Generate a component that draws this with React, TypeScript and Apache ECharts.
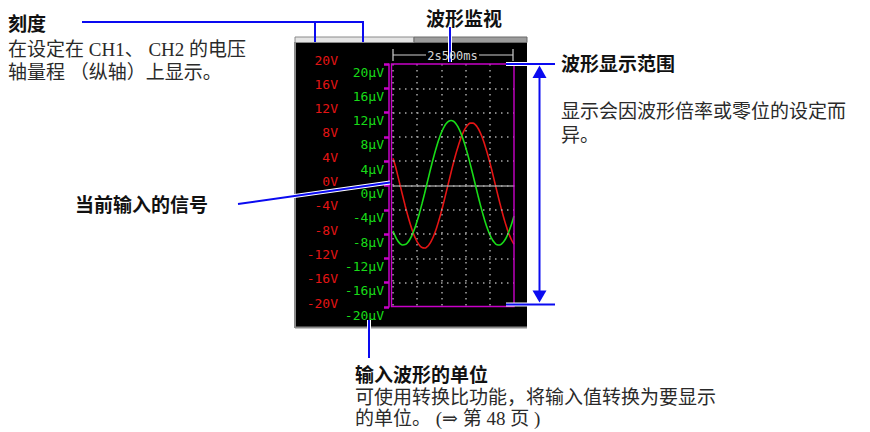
import React, { useEffect, useRef } from "react";
import * as echarts from "echarts";

// Sample times across the 2s500ms screen width (ms)
const TIME_MS = [
  0, 50, 100, 150, 200, 250, 300, 350, 400, 450,
  500, 550, 600, 650, 700, 750, 800, 850, 900, 950,
  1000, 1050, 1100, 1150, 1200, 1250, 1300, 1350, 1400, 1450,
  1500, 1550, 1600, 1650, 1700, 1750, 1800, 1850, 1900, 1950,
  2000, 2050, 2100, 2150, 2200, 2250, 2300, 2350, 2400, 2450,
  2500,
];

// CH2 waveform (green, µV scale)
const CH2_UV = [
  -7.5, -8.43, -9.13, -9.59, -9.79, -9.73, -9.42, -8.85, -8.05, -7.03,
  -5.82, -4.46, -2.96, -1.39, 0.24, 1.87, 3.46, 4.98, 6.38, 7.64,
  8.7, 9.56, 10.2, 10.58, 10.7, 10.57, 10.17, 9.53, 8.66, 7.58,
  6.32, 4.92, 3.39, 1.8, 0.17, -1.46, -3.03, -4.51, -5.87, -7.07,
  -8.09, -8.88, -9.43, -9.74, -9.79, -9.57, -9.1, -8.4, -7.46, -6.33,
  -5.02,
];

// CH1 waveform (red, V scale)
const CH1_V = [
  4.5, 3.18, 1.58, -0.06, -1.69, -3.28, -4.79, -6.18, -7.41, -8.45,
  -9.28, -9.87, -10.22, -10.3, -10.12, -9.68, -9.0, -8.09, -6.98, -5.69,
  -4.25, -2.71, -1.09, 0.55, 2.18, 3.75, 5.22, 6.56, 7.74, 8.72,
  9.48, 10.0, 10.27, 10.27, 10.01, 9.51, 8.75, 7.78, 6.6, 5.27,
  3.8, 2.23, 0.6, -1.04, -2.65, -4.2, -5.64, -6.93, -8.06, -8.97,
  -9.66,
];

const Y_MIN = -20;
const Y_MAX = 20;
const Y_STEP = 4;
const CH1_UNIT = "V";
const CH2_UNIT = "µV";
const TIME_DIV_LABEL = "2s500ms";

const GREEN = "#18dc18";
const RED = "#e41414";
const MAG = "#c800c8";
const BLUE = "#0a0af0";
const GRID_GREY = "#a8a8a8";

const CJK_SANS = '"Noto Sans CJK SC", sans-serif';
const BODY_FONT = '"Liberation Serif", "DejaVu Serif", "Noto Sans CJK SC", serif';
const MONO = '"DejaVu Sans Mono", monospace';
const FS = 19;

function blueLine(x1: number, y1: number, x2: number, y2: number, halo = false) {
  const els: any[] = [];
  if (halo) {
    els.push({
      type: "line",
      z: 60,
      shape: { x1, y1, x2, y2 },
      style: { stroke: "#ffffff", lineWidth: 4 },
    });
  }
  els.push({
    type: "line",
    z: 61,
    shape: { x1, y1, x2, y2 },
    style: { stroke: BLUE, lineWidth: 2 },
  });
  return els;
}

function txt(text: string, x: number, y: number, opts: any = {}) {
  return {
    type: "text",
    z: 70,
    x,
    y,
    style: {
      text,
      fill: opts.fill || "#222",
      fontSize: opts.fontSize || FS,
      fontFamily: opts.fontFamily || CJK_SANS,
      fontWeight: opts.fontWeight || "normal",
      align: opts.align || "left",
      verticalAlign: "middle",
      textAlign: opts.align || "left",
      textVerticalAlign: "middle",
    },
  };
}

export default function App() {
  const ref = useRef<HTMLDivElement>(null);

  useEffect(() => {
    if (!ref.current) return;
    const chart = echarts.init(ref.current, null, { renderer: "svg" });

    const greenData = TIME_MS.map((t, i) => [t, CH2_UV[i]]);
    const redData = TIME_MS.map((t, i) => [t, CH1_V[i]]);

    const graphic: any[] = [
      // screen background
      { type: "rect", z: -5, shape: { x: 295, y: 42, width: 232, height: 286 }, style: { fill: "#000" } },
      // tab bar
      { type: "rect", z: -5, shape: { x: 295, y: 37, width: 119, height: 5.5 }, style: { fill: "#e4e4e4", stroke: "#8a8a8a", lineWidth: 1 } },
      { type: "rect", z: -5, shape: { x: 414, y: 37, width: 113, height: 5.5 }, style: { fill: "#9c9c9c", stroke: "#6a6a6a", lineWidth: 1 } },
      // screen frame (left & bottom)
      { type: "line", z: -4, shape: { x1: 295, y1: 42, x2: 295, y2: 328 }, style: { stroke: "#8a8a8a", lineWidth: 2 } },
      { type: "line", z: -4, shape: { x1: 295, y1: 327.5, x2: 527, y2: 327.5 }, style: { stroke: "#8a8a8a", lineWidth: 2 } },
      // magenta display-range box
      { type: "rect", z: 20, shape: { x: 391.5, y: 64, width: 122.5, height: 242.5 }, style: { fill: "none", stroke: MAG, lineWidth: 1.4 } },
      // time/div bracket
      { type: "line", z: 20, shape: { x1: 393, y1: 55, x2: 426, y2: 55 }, style: { stroke: "#cfcfcf", lineWidth: 1.2 } },
      { type: "line", z: 20, shape: { x1: 479, y1: 55, x2: 513, y2: 55 }, style: { stroke: "#cfcfcf", lineWidth: 1.2 } },
      { type: "line", z: 20, shape: { x1: 393, y1: 49, x2: 393, y2: 61 }, style: { stroke: "#cfcfcf", lineWidth: 1.2 } },
      { type: "line", z: 20, shape: { x1: 513, y1: 49, x2: 513, y2: 61 }, style: { stroke: "#cfcfcf", lineWidth: 1.2 } },
      txt(TIME_DIV_LABEL, 452.5, 56, { fill: "#d6d6d6", fontSize: 12, fontFamily: MONO, align: "center" }),

      // callouts
      ...blueLine(82, 22, 364, 22),
      ...blueLine(315, 21, 315, 42),
      ...blueLine(363, 21, 363, 42),
      ...blueLine(450, 27, 450, 62, true),
      ...blueLine(238, 204, 390, 182.5, true),
      ...blueLine(506, 64, 555, 64, true),
      ...blueLine(506, 304.5, 555, 304.5, true),
      ...blueLine(369, 320, 369, 358, true),
      ...blueLine(539.5, 76, 539.5, 292),
      { type: "polygon", z: 61, shape: { points: [[539.5, 65.5], [532.5, 78], [546.5, 78]] }, style: { fill: BLUE } },
      { type: "polygon", z: 61, shape: { points: [[539.5, 302.5], [532.5, 290.5], [546.5, 290.5]] }, style: { fill: BLUE } },

      // texts
      txt("刻度", 8, 22.5, { fontWeight: "bold", fill: "#111" }),
      txt("在设定在 CH1、 CH2 的电压", 8, 49, { fontFamily: BODY_FONT, fill: "#2a2a2a" }),
      txt("轴量程 （纵轴）上显示。", 8, 72, { fontFamily: BODY_FONT, fill: "#2a2a2a" }),
      txt("波形监视", 464, 17, { fontWeight: "bold", fill: "#111", align: "center" }),
      txt("波形显示范围", 561, 62, { fontWeight: "bold", fill: "#111" }),
      txt("显示会因波形倍率或零位的设定而", 561, 111, { fontFamily: BODY_FONT, fill: "#2a2a2a" }),
      txt("异。", 561, 135, { fontFamily: BODY_FONT, fill: "#2a2a2a" }),
      txt("当前输入的信号", 75, 203, { fontWeight: "bold", fill: "#111" }),
      txt("输入波形的单位", 355, 373, { fontWeight: "bold", fill: "#111" }),
      txt("可使用转换比功能，将输入值转换为要显示", 355, 397, { fontFamily: BODY_FONT, fill: "#2a2a2a" }),
      txt("的单位。 (⇒ 第 48 页 )", 355, 418.5, { fontFamily: BODY_FONT, fill: "#2a2a2a" }),
    ];

    chart.setOption({
      animation: false,
      backgroundColor: "#ffffff",
      grid: { left: 393, top: 64, width: 121, height: 243, containLabel: false },
      xAxis: {
        type: "value",
        min: 0,
        max: 2500,
        interval: 500,
        axisLabel: { show: false },
        axisTick: { show: false },
        axisLine: { show: true, onZero: true, lineStyle: { color: "#8e8e8e", width: 1.6 } },
        splitLine: {
          show: true,
          showMaxLine: false,
          lineStyle: { color: GRID_GREY, width: 1.5, type: [1.5, 4.5] },
        },
      },
      yAxis: [
        {
          type: "value",
          position: "left",
          offset: 4,
          min: Y_MIN,
          max: Y_MAX,
          interval: Y_STEP,
          z: 10,
          axisLine: { show: true, onZero: false, lineStyle: { color: MAG, width: 1.5 } },
          axisTick: { show: true, inside: false, length: 5, lineStyle: { color: MAG, width: 2.5 } },
          axisLabel: {
            color: GREEN,
            fontFamily: MONO,
            fontSize: 13,
            margin: 5,
            showMinLabel: true,
            showMaxLabel: true,
            formatter: (v: number) => `{g| }\n{t|${v}${CH2_UNIT}}`,
            rich: {
              g: { lineHeight: 16, fontSize: 2 },
              t: { lineHeight: 4, color: GREEN, fontFamily: MONO, fontSize: 13 },
            },
          },
          splitLine: {
            show: true,
            showMinLine: false,
            showMaxLine: false,
            lineStyle: { color: GRID_GREY, width: 1.5, type: [1.5, 4.5] },
          },
        },
        {
          type: "value",
          position: "left",
          offset: 47,
          min: Y_MIN,
          max: Y_MAX,
          interval: Y_STEP,
          axisLine: { show: false, onZero: false },
          axisTick: { show: false },
          splitLine: { show: false },
          axisLabel: {
            color: RED,
            fontFamily: MONO,
            fontSize: 13,
            margin: 8,
            lineHeight: 8,
            showMinLabel: true,
            showMaxLabel: true,
            formatter: (v: number) => `${v}${CH1_UNIT}\n`,
          },
        },
      ],
      series: [
        {
          name: "CH1",
          type: "line",
          yAxisIndex: 1,
          data: redData,
          showSymbol: false,
          smooth: true,
          lineStyle: { color: RED, width: 1.6 },
          z: 5,
        },
        {
          name: "CH2",
          type: "line",
          yAxisIndex: 0,
          data: greenData,
          showSymbol: false,
          smooth: true,
          lineStyle: { color: GREEN, width: 1.6 },
          z: 6,
        },
      ],
      graphic,
    });

    return () => chart.dispose();
  }, []);

  return (
    <div
      ref={ref}
      style={{ position: "absolute", left: 0, top: 0, width: 870, height: 432 }}
    />
  );
}
